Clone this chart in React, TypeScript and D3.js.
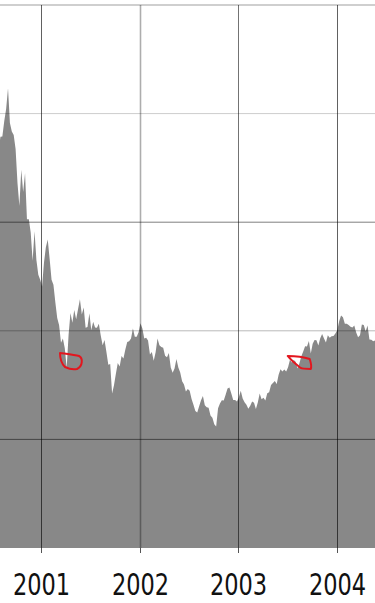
import React from 'react';
import * as d3 from 'd3';

// Weekly (Friday) index levels
const start2000 = '2000-07-28';
const values2000 = [3663, 3787, 3789, 3930, 4042, 4234, 3914, 3835, 3803, 3673, 3361, 3150, 3483, 3278, 3451, 3028, 3027, 2904, 2645, 2917, 2653, 2517, 2470];
const start2001 = '2001-01-05';
const values2001 = [2407, 2626, 2770, 2840, 2660, 2470, 2425, 2262, 2117, 2052, 1890, 1928, 1840, 1660, 1961, 2163, 2075, 2191, 2107, 2198, 2290, 2149, 2215, 2028, 2034, 2161, 2004, 2084, 2030, 2029, 2066, 1956, 1867, 1916, 1805, 1687, 1695, 1423, 1498, 1605, 1703, 1671, 1768, 1745, 1828, 1898, 1903, 1930, 2021, 1946, 1945, 1987];
const start2002 = '2002-01-04';
const values2002 = [2070, 2022, 1930, 1937, 1911, 1782, 1805, 1724, 1802, 1929, 1868, 1851, 1845, 1770, 1756, 1796, 1663, 1613, 1652, 1741, 1661, 1615, 1535, 1505, 1440, 1463, 1448, 1373, 1319, 1262, 1247, 1306, 1361, 1400, 1315, 1295, 1291, 1221, 1199, 1139, 1118, 1287, 1331, 1360, 1359, 1411, 1468, 1479, 1422, 1362, 1363, 1348];
const start2003 = '2003-01-03';
const values2003 = [1387, 1448, 1376, 1342, 1320, 1282, 1310, 1349, 1337, 1280, 1340, 1422, 1369, 1384, 1358, 1425, 1434, 1502, 1520, 1538, 1510, 1596, 1646, 1626, 1644, 1625, 1664, 1734, 1708, 1731, 1715, 1652, 1702, 1765, 1810, 1858, 1855, 1905, 1792, 1880, 1915, 1912, 1865, 1932, 1970, 1930, 1893, 1960, 1937, 1949, 1951, 1974];
const start2004 = '2004-01-02';
const values2004 = [2006, 2087, 2140, 2124, 2066, 2064, 2053, 2037, 2030, 2048, 1985, 1940, 1960, 2057, 2053, 1995, 2049, 1920, 1917, 1904, 1912, 1987];

const yearTicks = [2001, 2002, 2003, 2004];
const valueTicks = [1000, 2000, 3000, 4000, 5000];

// Annotation anchors (date, value)
const marks = [
  { date: '2001-04-22', value: 1731 },
  { date: '2003-08-16', value: 1713 },
];

const W = 375;
const H = 603;

const parse = d3.utcParse('%Y-%m-%d');

function weekly(start: string, vals: number[]) {
  const s = parse(start) as Date;
  return vals.map((v, i) => ({ date: d3.utcDay.offset(s, i * 7), value: v }));
}

const data = [
  ...weekly(start2000, values2000),
  ...weekly(start2001, values2001),
  ...weekly(start2002, values2002),
  ...weekly(start2003, values2003),
  ...weekly(start2004, values2004),
];

const vGridStyle = [
  { op: 0.62, w: 1 },
  { op: 0.32, w: 1.6 },
  { op: 0.55, w: 1 },
  { op: 0.62, w: 1 },
];
const hGridStyle: Record<number, { op: number; w: number }> = {
  1000: { op: 0.5, w: 1 },
  2000: { op: 0.28, w: 1 },
  3000: { op: 0.5, w: 1 },
  4000: { op: 0.2, w: 1 },
  5000: { op: 0.25, w: 1.5 },
};

const markPaths = [
  'M-11,-7 C-4,-6 4,-5 8,-4 C12,-2 12,6 6,9 C1,10 -4,8 -6,7 C-9,4 -11,0 -11,-7 Z',
  'M-12,-6 C-5,-6 4,-5 10,-3 C11,0 12,5 11,7 C7,7 3,7 1,6 C-3,3 -8,-1 -12,-6 Z',
];

export default function App() {
  const x = d3
    .scaleUtc()
    .domain([new Date(Date.UTC(2001, 0, 1)), new Date(Date.UTC(2004, 0, 1))])
    .range([41, 337]);
  const y = d3.scaleLinear().domain([0, 5000]).range([548, 5]);

  const area = d3
    .area<{ date: Date; value: number }>()
    .x((d) => x(d.date))
    .y0(y(0))
    .y1((d) => y(d.value))
    .curve(d3.curveLinear);

  return (
    <svg
      width={W}
      height={H}
      style={{ position: 'absolute', left: 0, top: 0, background: '#fff' }}
      fontFamily="'DejaVu Sans', Verdana, sans-serif"
    >
      <rect x={0} y={0} width={W} height={H} fill="#fff" />
      <path d={area(data) || ''} fill="#888888" />
      {valueTicks.map((v) => (
        <line
          key={'h' + v}
          x1={0}
          x2={W}
          y1={y(v)}
          y2={y(v)}
          stroke="#000"
          strokeOpacity={hGridStyle[v].op}
          strokeWidth={hGridStyle[v].w}
        />
      ))}
      {yearTicks.map((yr, i) => {
        const xx = Math.round(x(new Date(Date.UTC(yr, 0, 1)))) + 0.5;
        return (
          <g key={'v' + yr}>
            <line
              x1={xx}
              x2={xx}
              y1={y(5000)}
              y2={y(0)}
              stroke="#000"
              strokeOpacity={vGridStyle[i].op}
              strokeWidth={vGridStyle[i].w}
            />
            <line x1={xx} x2={xx} y1={y(0)} y2={y(0) + 5} stroke="#555" strokeWidth={1} />
            <text
              transform={`translate(${xx},595) scale(1,1.3)`}
              textAnchor="middle"
              fontSize={22.5}
              fill="#111"
            >
              {String(yr)}
            </text>
          </g>
        );
      })}
      {marks.map((m, i) => (
        <path
          key={'m' + i}
          transform={`translate(${x(parse(m.date) as Date)},${y(m.value)})`}
          d={markPaths[i]}
          fill="none"
          stroke="#e3161e"
          strokeWidth={2}
          strokeLinejoin="round"
        />
      ))}
    </svg>
  );
}
